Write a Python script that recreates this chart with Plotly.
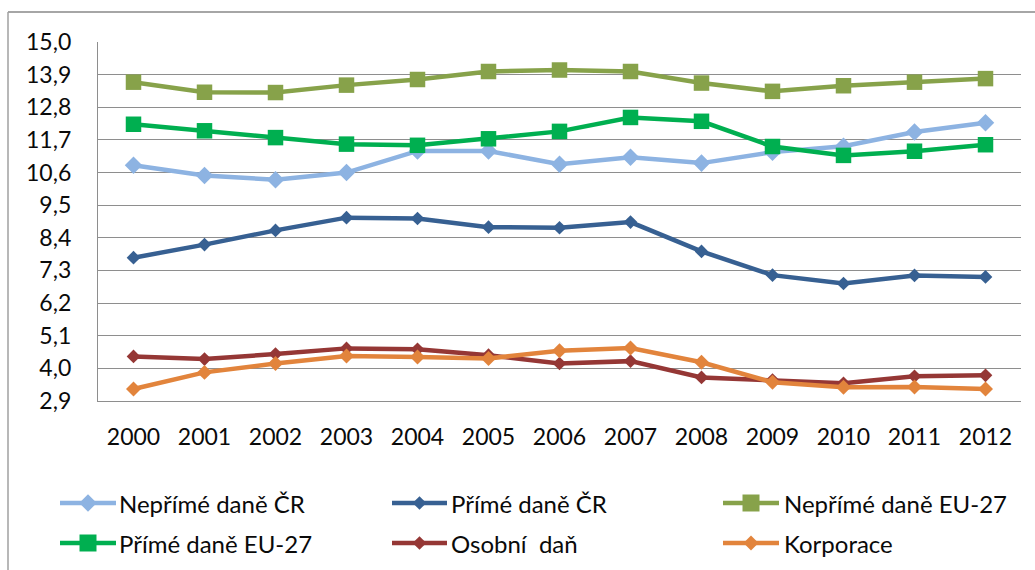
import plotly.graph_objects as go

# Data: tax shares (% HDP), 2000-2012
years = ["2000", "2001", "2002", "2003", "2004", "2005", "2006",
         "2007", "2008", "2009", "2010", "2011", "2012"]

neprime_cr = [10.85, 10.50, 10.36, 10.60, 11.33, 11.33, 10.88,
              11.12, 10.92, 11.29, 11.49, 11.97, 12.28]
prime_cr = [7.73, 8.17, 8.65, 9.08, 9.05, 8.76, 8.74,
            8.93, 7.94, 7.14, 6.86, 7.13, 7.08]
neprime_eu = [13.65, 13.31, 13.30, 13.55, 13.74, 14.01, 14.06,
              14.01, 13.62, 13.34, 13.53, 13.65, 13.77]
prime_eu = [12.23, 12.01, 11.78, 11.56, 11.52, 11.74, 11.99,
            12.46, 12.33, 11.48, 11.18, 11.32, 11.54]
osobni = [4.40, 4.31, 4.48, 4.67, 4.64, 4.44, 4.16,
          4.24, 3.69, 3.60, 3.49, 3.73, 3.76]
korporace = [3.30, 3.86, 4.16, 4.41, 4.38, 4.33, 4.59,
             4.68, 4.20, 3.53, 3.36, 3.37, 3.30]

y_ticks = [2.9, 4.0, 5.1, 6.2, 7.3, 8.4, 9.5, 10.6, 11.7, 12.8, 13.9, 15.0]

series = [
    ("Nepřímé daně ČR", neprime_cr, "#8DB3E2", "diamond", 13.5),
    ("Přímé daně ČR", prime_cr, "#376092", "diamond", 10.5),
    ("Nepřímé daně EU-27", neprime_eu, "#87A24A", "square", 15.5),
    ("Přímé daně EU-27", prime_eu, "#00AF50", "square", 15.5),
    ("Osobní\u00a0 daň", osobni, "#953735", "diamond", 10.5),
    ("Korporace", korporace, "#E2843C", "diamond", 11.5),
]

FONT = "Lato"
GRID = "#8E8E8E"
TEXT = "#0A0A0A"

# plot-area geometry in page pixels
W, H = 1035, 570
L, R, T, B = 98, 14, 42, 169
PW, PH = W - L - R, H - T - B


def px(x):
    return (x - L) / PW


def py(y):
    return (H - B - y) / PH


fig = go.Figure()
for name, vals, color, sym, size in series:
    fig.add_trace(go.Scatter(
        x=years, y=vals, name=name, mode="lines+markers",
        line=dict(color=color, width=4.5),
        marker=dict(symbol=sym, size=size, color=color, line=dict(width=0)),
        showlegend=False,
    ))

shapes = []
annotations = []

# outer chart frame (top and left edges)
shapes.append(dict(type="line", xref="paper", yref="paper",
                   x0=px(8), x1=px(W + 5), y0=py(12), y1=py(12),
                   line=dict(color="#888888", width=1.5)))
shapes.append(dict(type="line", xref="paper", yref="paper",
                   x0=px(8), x1=px(8), y0=py(12), y1=py(H + 5),
                   line=dict(color="#A0A0A0", width=1.5)))

# legend keys: line + marker + label, three columns by two rows
cols = [(60, 116, 117), (392, 447, 449), (723, 779, 782)]
rows = [503, 543]
for i, (name, vals, color, sym, size) in enumerate(series):
    x0, x1, xt = cols[i % 3]
    yy = rows[i // 3]
    shapes.append(dict(type="line", xref="paper", yref="paper",
                       x0=px(x0), x1=px(x1), y0=py(yy), y1=py(yy),
                       line=dict(color=color, width=4.5)))
    if sym == "square":
        h = 8.5
        path = f"M{-h},{-h} L{h},{-h} L{h},{h} L{-h},{h} Z"
    else:
        h = size * 0.65
        path = f"M0,{h} L{h},0 L0,{-h} L{-h},0 Z"
    shapes.append(dict(type="path", xref="paper", yref="paper",
                       xsizemode="pixel", ysizemode="pixel",
                       xanchor=px((x0 + x1) / 2), yanchor=py(yy),
                       path=path, fillcolor=color, line=dict(width=0)))
    annotations.append(dict(xref="paper", yref="paper", x=px(xt), y=py(yy),
                            text=name, showarrow=False, xanchor="left",
                            yanchor="middle",
                            font=dict(family=FONT, size=24, color=TEXT)))

fig.update_layout(
    width=W, height=H,
    margin=dict(l=L, r=R, t=T, b=B),
    paper_bgcolor="white", plot_bgcolor="white",
    separators=", ",
    font=dict(family=FONT, size=23, color=TEXT),
    shapes=shapes, annotations=annotations,
    showlegend=False,
)
fig.update_xaxes(
    type="category", range=[-0.5, 12.5],
    showgrid=False, showline=True, linecolor=GRID, linewidth=1.3,
    ticks="", ticklabelstandoff=15,
    tickfont=dict(family=FONT, size=23, color=TEXT),
)
fig.update_yaxes(
    range=[2.895, 15.005], tickvals=y_ticks, tickformat=".1f",
    showgrid=True, gridcolor=GRID, gridwidth=1.3,
    showline=True, linecolor=GRID, linewidth=1.3,
    zeroline=False, ticks="", ticklabelstandoff=21,
    tickfont=dict(family=FONT, size=23, color=TEXT),
)

fig.write_html("out.html")
